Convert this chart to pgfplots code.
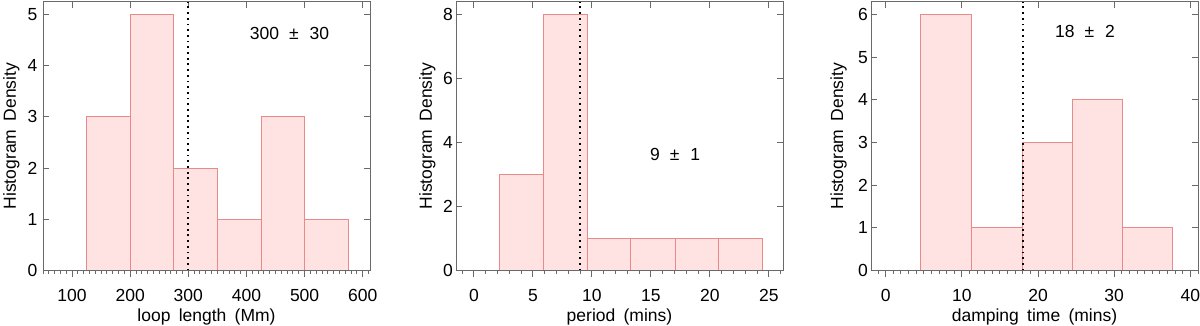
\documentclass[border=0pt]{standalone}
\usepackage{pgfplots}
\pgfplotsset{compat=1.18}
\usepackage{fontspec}
\setmainfont[WordSpace=1.7]{Liberation Sans}

\definecolor{barfill}{RGB}{255,226,226}
\definecolor{baredge}{RGB}{232,138,138}
\definecolor{axgray}{RGB}{105,105,105}

\pgfplotsset{
    histbase/.style={
        scale only axis,
        width=327pt, height=268.8pt,
        anchor=south west,
        ymin=0,
        font=\fontsize{17.5}{20}\selectfont,
        /pgf/number format/assume math mode=true,
        axis line style={axgray, line width=1pt},
        every tick/.style={axgray, line width=1pt},
        tick align=inside,
        major tick length=6pt,
        ytick pos=both, yticklabel pos=left,
        xtick pos=right, xticklabel pos=left,
        xticklabel style={anchor=base, yshift=-31.2pt},
        yticklabel style={anchor=east, inner sep=0pt, xshift=-3pt},
        ylabel={Histogram Density},
        xlabel style={at={(axis description cs:0.5,-0.188)}, anchor=base},
        clip=false,
    },
    % bottom ticks point outwards and carry the minor ticks
    minorbase/.style={
        scale only axis,
        width=327pt, height=268.8pt,
        anchor=south west,
        ymin=0,
        axis line style={axgray, line width=1pt},
        every tick/.style={axgray, line width=1pt},
        tick align=outside,
        major tick length=7pt,
        minor tick length=3.3pt,
        xtick pos=left,
        xticklabels={},
        ytick=\empty,
    },
    bars/.style={ybar interval, fill=barfill, draw=baredge, line width=1pt},
    mean/.style={black, line width=1.8pt, dash pattern=on 1.8pt off 3.9pt},
}

\begin{document}
\begin{tikzpicture}
\path[use as bounding box] (0,0) rectangle (1200pt,326pt);

% loop length
\begin{axis}[histbase, at={(43pt,55.5pt)},
    xmin=50, xmax=612.5, ymax=5.25,
    xtick={100,200,...,600}, ytick={0,1,...,5},
    xlabel={loop length (Mm)},
    ylabel style={at={(axis description cs:-0.083,0.5)}, anchor=base},
    yticklabel style={xshift=-2.5pt},
]
\addplot[bars] coordinates {
    (125,3) (200,5) (275,2) (350,1) (425,3) (500,1) (575,1)
};
\addplot[mean] coordinates {(300,0) (300,5.25)};
\node at (axis cs:474,4.63) {300\hspace{10pt}±\hspace{11pt}30};
\end{axis}
\begin{axis}[minorbase, at={(43pt,55.5pt)},
    xmin=50, xmax=612.5, ymax=5.25,
    xtick={100,200,...,600}, minor xtick={50,60,...,610},
]
\end{axis}

% period
\begin{axis}[histbase, at={(456pt,55.5pt)},
    xmin=-1.52, xmax=26.2, ymax=8.41,
    xtick={0,5,...,25}, ytick={0,2,...,8},
    xlabel={period (mins)},
    ylabel style={at={(axis description cs:-0.074,0.5)}, anchor=base},
]
\addplot[bars] coordinates {
    (2.2,3) (5.93,8) (9.6,1) (13.3,1) (17.05,1) (20.75,1) (24.45,1)
};
\addplot[mean] coordinates {(9,0) (9,8.41)};
\node at (axis cs:17.05,3.64) {9\hspace{10pt}±\hspace{11pt}1};
\end{axis}
\begin{axis}[minorbase, at={(456pt,55.5pt)},
    xmin=-1.52, xmax=26.2, ymax=8.41,
    xtick={0,5,...,25}, minor xtick={-1,0,...,26},
]
\end{axis}

% damping time
\begin{axis}[histbase, at={(871pt,55.5pt)},
    xmin=-1.93, xmax=41.0, ymax=6.3,
    xtick={0,10,...,40}, ytick={0,1,...,6},
    xlabel={damping time (mins)},
    ylabel style={at={(axis description cs:-0.085,0.5)}, anchor=base},
]
\addplot[bars] coordinates {
    (4.6,6) (11.25,1) (17.9,3) (24.5,4) (31.1,1) (37.7,1)
};
\addplot[mean] coordinates {(18,0) (18,6.3)};
\node at (axis cs:26.16,5.61) {18\hspace{10pt}±\hspace{11pt}2};
\end{axis}
\begin{axis}[minorbase, at={(871pt,55.5pt)},
    xmin=-1.93, xmax=41.0, ymax=6.3,
    xtick={0,10,...,40}, minor xtick={-1,0,...,41},
]
\end{axis}
\end{tikzpicture}
\end{document}
